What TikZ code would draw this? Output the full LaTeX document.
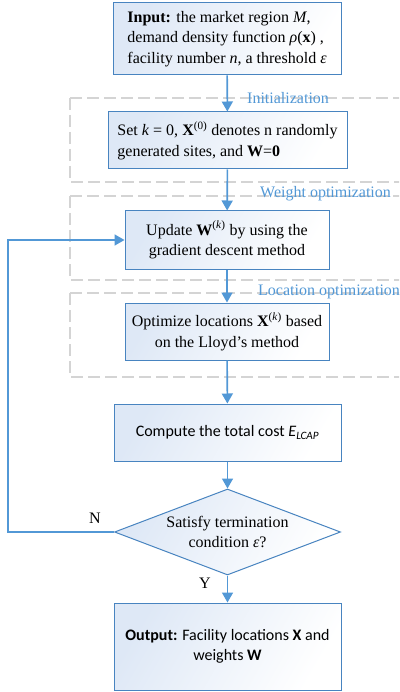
\documentclass[tikz,border=0pt]{standalone}
\usepackage{fontspec}
\setmainfont{Liberation Serif}
\newfontfamily\calfont{Carlito}
\usetikzlibrary{shapes.geometric,arrows.meta}
\definecolor{boxline}{RGB}{72,132,192}
\definecolor{arrowblue}{RGB}{82,152,214}
\definecolor{labelblue}{RGB}{82,152,214}
\definecolor{dashgray}{RGB}{212,212,212}
\definecolor{fillblue}{RGB}{222,232,246}
\begin{document}
\begin{tikzpicture}[x=1pt,y=-1pt,
  txt/.style={font=\fontsize{16}{20.5}\selectfont},
  procbox/.style={txt, draw=boxline, line width=1pt, rectangle, inner sep=0pt,
    left color=fillblue, right color=white, shading angle=60},
  decbox/.style={txt, draw=boxline, line width=1pt, diamond, inner sep=0pt, aspect=2.6,
    left color=fillblue, right color=white, shading angle=60},
  arr/.style={draw=arrowblue, line width=1.6pt, -{Triangle[width=11pt,length=10pt]}},
  dashbox/.style={draw=dashgray, line width=1.8pt, dash pattern=on 12pt off 5pt},
  grouplabel/.style={txt, text=labelblue, anchor=west, inner sep=0pt},
  yn/.style={txt, inner sep=0pt}]
\clip (0,0) rectangle (399,692);
\fill[white] (0,0) rectangle (399,692);

% dashed group frames
\draw[dashbox] (70,98) -- (420,98) (70,98) -- (70,182) -- (420,182);
\draw[dashbox] (70,196) -- (420,196) (70,196) -- (70,280) -- (420,280);
\draw[dashbox] (70,293) -- (420,293) (70,293) -- (70,377) -- (420,377);
\node[grouplabel] (lbinit) at (247,98) {Initialization};
\node[grouplabel] (lbweight) at (260,194) {Weight optimization};
\node[grouplabel] (lbloc) at (258,292) {Location optimization};

% nodes
\node[procbox, minimum width=228pt, minimum height=72pt, align=left] (inp) at (227,39)
  {\textbf{Input:} the market region \textit{M},\\demand density function \textit{ρ}(\textbf{x}) ,\\facility number \textit{n}, a threshold \textit{ε}};
\node[procbox, minimum width=239pt, minimum height=57pt, align=left] (init) at (227.5,140.5)
  {Set \textit{k} = 0, \textbf{X}\textsuperscript{(0)} denotes n randomly\\generated sites, and \textbf{W}=\textbf{0}};
\node[procbox, minimum width=204pt, minimum height=58pt, align=center] (upd) at (227,240)
  {Update \textbf{W}\textsuperscript{(\textit{k})} by using the\\gradient descent method};
\node[procbox, minimum width=204pt, minimum height=57pt, align=center] (opt) at (227,331.5)
  {Optimize locations \textbf{X}\textsuperscript{(\textit{k})} based\\on the Lloyd’s method};
\node[procbox, minimum width=227pt, minimum height=57pt, align=center] (cost) at (227.5,432.5)
  {\calfont Compute the total cost \textit{E}\textsubscript{\textit{LCAP}}};
\node[decbox, minimum width=226pt, minimum height=86pt, align=center] (dec) at (227.5,532)
  {Satisfy termination\\condition \textit{ε}?};
\node[procbox, minimum width=227pt, minimum height=87pt, align=center] (out) at (227.5,646.5)
  {\calfont\textbf{Output:} Facility locations \textbf{X} and\\\calfont weights \textbf{W}};

% connectors
\draw[arr] (inp) -- (init);
\draw[arr] (init) -- (upd);
\draw[arr] (upd) -- (opt);
\draw[arr] (opt) -- (cost);
\draw[arr] (cost) -- (dec);
\draw[arr] (dec) -- (out);
\coordinate (lp) at (8,532);
\draw[arr] (dec.west) -- (dec.west -| lp) |- (upd.west);
\node[yn] (nlab) at (95,518) {N};
\node[yn] (ylab) at (205,583) {Y};
\end{tikzpicture}
\end{document}
